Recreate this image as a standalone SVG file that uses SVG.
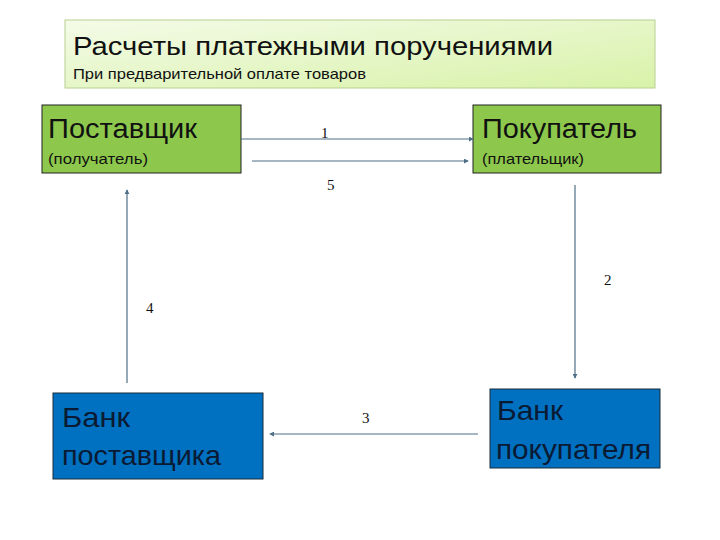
<svg xmlns="http://www.w3.org/2000/svg" width="720" height="540" viewBox="0 0 720 540">
<defs>
<linearGradient id="tg" x1="0" y1="0" x2="1" y2="1">
<stop offset="0" stop-color="#f4fbe8"/>
<stop offset="1" stop-color="#d8f2a8"/>
</linearGradient>
<marker id="ah" viewBox="0 0 6 6" refX="5" refY="3" markerWidth="5" markerHeight="5" orient="auto" markerUnits="userSpaceOnUse">
<path d="M0,0 L6,3 L0,6 z" fill="#4f6f86"/>
</marker>
<style>
text{font-family:"Liberation Sans","Open Sans",sans-serif;fill:#111;}
.big{font-size:27px;}
.small{font-size:14.5px;}
.bank{font-size:28px;fill:#0a1a33;}
.num{font-family:"Liberation Serif",serif;font-size:15px;}
.green{fill:#8dc84c;stroke:#222;stroke-width:1;}
.blue{fill:#0070c0;stroke:#1a2a3a;stroke-width:1;}
.conn line{stroke:#4f6f86;stroke-width:1.2;marker-end:url(#ah);}
</style>
</defs>
<rect width="720" height="540" fill="#fff"/>
<g id="title">
<rect x="65" y="20" width="590" height="68" fill="url(#tg)" stroke="#b8d090" stroke-width="1"/>
<text x="73" y="55" font-size="26" textLength="480" lengthAdjust="spacingAndGlyphs">Расчеты платежными поручениями</text>
<text x="73" y="79" font-size="15" textLength="293" lengthAdjust="spacingAndGlyphs">При предварительной оплате товаров</text>
</g>
<g id="supplier">
<rect x="42" y="105" width="199" height="68" class="green"/>
<text x="48" y="138" class="big" textLength="149" lengthAdjust="spacingAndGlyphs">Поставщик</text>
<text x="48" y="164" class="small" textLength="100" lengthAdjust="spacingAndGlyphs">(получатель)</text>
</g>
<g id="buyer">
<rect x="473" y="105" width="188" height="68" class="green"/>
<text x="482" y="138" class="big" textLength="155" lengthAdjust="spacingAndGlyphs">Покупатель</text>
<text x="482" y="164" class="small" textLength="102" lengthAdjust="spacingAndGlyphs">(плательщик)</text>
</g>
<g id="supplier-bank">
<rect x="53" y="393" width="210" height="86" class="blue"/>
<text x="62" y="427" class="bank" textLength="68" lengthAdjust="spacingAndGlyphs">Банк</text>
<text x="62" y="465" class="bank" textLength="159" lengthAdjust="spacingAndGlyphs">поставщика</text>
</g>
<g id="buyer-bank">
<rect x="490" y="389" width="170" height="79" class="blue"/>
<text x="497" y="420" class="bank" textLength="66" lengthAdjust="spacingAndGlyphs">Банк</text>
<text x="496" y="459" class="bank" textLength="155" lengthAdjust="spacingAndGlyphs">покупателя</text>
</g>
<g id="connectors" class="conn">
<line x1="241" y1="139" x2="473" y2="139"/>
<line x1="252" y1="161" x2="468" y2="161"/>
<line x1="575" y1="185" x2="575" y2="378"/>
<line x1="478" y1="434" x2="270" y2="434"/>
<line x1="127" y1="383" x2="127" y2="190"/>
</g>
<g id="labels">
<text x="321" y="138" class="num">1</text>
<text x="604" y="285" class="num">2</text>
<text x="362" y="423" class="num">3</text>
<text x="146" y="313" class="num">4</text>
<text x="327" y="190" class="num">5</text>
</g>
</svg>
